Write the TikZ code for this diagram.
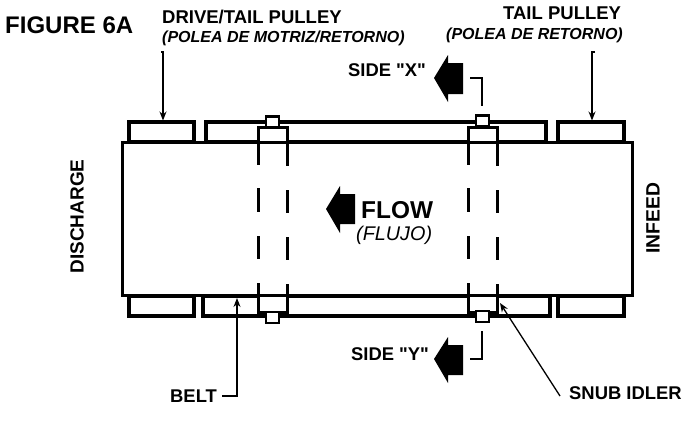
\documentclass[tikz,border=0pt]{standalone}
\usepackage{fontspec}
\setmainfont{Liberation Sans}[Ligatures=TeXOff]
\usetikzlibrary{arrows.meta}
\tikzset{
  pulley/.style={draw, line width=3.2pt, inner sep=0pt, outer sep=0pt, minimum height=20pt},
  capbox/.style={draw, fill=white, line width=2.8pt, inner sep=0pt, outer sep=0pt, minimum width=13pt, minimum height=11pt},
  heavy/.style={line width=3pt},
  leader/.style={line width=1.3pt},
  tag/.style={font=\bfseries\fontsize{18.4}{20}\selectfont, inner sep=0pt, anchor=base west},
  note/.style={font=\bfseries\itshape\fontsize{16}{18}\selectfont, inner sep=0pt, anchor=base west}
}
\begin{document}
\begin{tikzpicture}[x=1pt, y=-1pt, >={Stealth[length=9pt,width=7pt]}]
\useasboundingbox (0,0) rectangle (696,429);
  % Pulleys and side rails
  \node[pulley, minimum width=65pt] (topleft) at (161.5,132) {};
  \node[pulley, minimum width=340pt] (toprail) at (376,132) {};
  \node[pulley, minimum width=66pt] (topright) at (591,132) {};
  \node[pulley, minimum width=65pt] (botleft) at (161.5,306) {};
  \node[pulley, minimum width=347pt] (botrail) at (376.5,306) {};
  \node[pulley, minimum width=66pt] (botright) at (591,306) {};
  % Belt
  \node[draw, heavy, fill=white, inner sep=0pt, outer sep=0pt, minimum width=510pt, minimum height=153pt] (belt) at (377,218.5) {};
  % Idler 1
  \draw[heavy, fill=white] (258,142) -- (258,127) -- (287,127) -- (287,142) -- cycle;
  \draw[heavy, fill=white] (258,295) -- (258,312) -- (287,312) -- (287,295) -- cycle;
  \draw[heavy] (258,142) -- (258,165); % left
  \draw[heavy] (258,188) -- (258,212);
  \draw[heavy] (258,236) -- (258,259);
  \draw[heavy] (258,283) -- (258,295);
  \draw[heavy] (287,142) -- (287,166); % right
  \draw[heavy] (287,190) -- (287,213);
  \draw[heavy] (287,237) -- (287,260);
  \draw[heavy] (287,284) -- (287,295);
  % Idler 2
  \draw[heavy, fill=white] (468,142) -- (468,127) -- (497,127) -- (497,142) -- cycle;
  \draw[heavy, fill=white] (468,295) -- (468,312) -- (497,312) -- (497,295) -- cycle;
  \draw[heavy] (468,142) -- (468,165); % left
  \draw[heavy] (468,188) -- (468,212);
  \draw[heavy] (468,236) -- (468,259);
  \draw[heavy] (468,283) -- (468,295);
  \draw[heavy] (497,142) -- (497,166); % right
  \draw[heavy] (497,190) -- (497,213);
  \draw[heavy] (497,237) -- (497,260);
  \draw[heavy] (497,284) -- (497,295);
  % Caps
  \node[capbox] (captopa) at (272.5,122) {};
  \node[capbox] (captopb) at (482.5,121) {};
  \node[capbox] (capbota) at (272.5,317.5) {};
  \node[capbox] (capbotb) at (482.5,316.5) {};
  % Block arrows
  \fill (434,78) -- (448,55) -- (448,63) -- (463,63) -- (463,94) -- (448,94) -- (448,102) -- cycle; % side X
  \fill (434,359) -- (448,337) -- (448,345) -- (463,345) -- (463,375) -- (448,375) -- (448,383) -- cycle; % side Y
  \fill (326,209) -- (340,186) -- (340,194) -- (355,194) -- (355,224) -- (340,224) -- (340,233) -- cycle; % flow
  % Texts
  \node[inner sep=0pt, anchor=base west, font=\bfseries\fontsize{24}{26}\selectfont] (figtitle) at (5,33) {FIGURE 6A};
  \node[tag, font=\bfseries\fontsize{18.5}{20}\selectfont] (drivelabel) at (162,23) {DRIVE/TAIL PULLEY};
  \node[note] (drivenote) at (162,42) {(POLEA DE MOTRIZ/RETORNO)};
  \node[tag, font=\bfseries\fontsize{18.5}{20}\selectfont] (taillabel) at (503,19) {TAIL PULLEY};
  \node[note] (tailnote) at (446,39) {(POLEA DE RETORNO)};
  \node[tag] (sidex) at (348,76) {SIDE "X"};
  \node[tag] (sidey) at (351,360) {SIDE "Y"};
  \node[inner sep=0pt, anchor=base west, font=\bfseries\fontsize{24.4}{26}\selectfont] (flowlabel) at (361,218) {FLOW};
  \node[inner sep=0pt, anchor=base west, font=\itshape\fontsize{19.8}{22}\selectfont] (flownote) at (356,240) {(FLUJO)};
  \node[tag, anchor=center, rotate=90, font=\bfseries\fontsize{19}{21}\selectfont] (discharge) at (77,216.5) {DISCHARGE};
  \node[tag, anchor=center, rotate=90, font=\bfseries\fontsize{19.3}{21}\selectfont] (infeed) at (653,218) {INFEED};
  \node[tag] (beltlabel) at (170,402) {BELT};
  \node[tag] (snublabel) at (569,399) {SNUB IDLER};
  % Leaders
  \coordinate (drivestart) at (163,52);
  \coordinate (tailstart) at (592,52);
  \coordinate (xstart) at (470,78);
  \coordinate (xcorner) at (482,78);
  \coordinate (ystart) at (470,359);
  \coordinate (ycorner) at (482,359);
  \coordinate (beltcorner) at (237,396);
  \coordinate (snubstart) at (560,396);
  \coordinate (snubtip) at (500,303);
  \draw[leader, ->, shorten >=1.5pt] ([xshift=-2pt]drivestart) -- (drivestart) -- (drivestart |- topleft.north);
  \draw[leader, ->, shorten >=1.5pt] ([xshift=3pt]tailstart) -- (tailstart) -- (tailstart |- topright.north);
  \draw[leader] (xstart) -- (xcorner) -- ([yshift=10pt]xcorner |- captopb.north);
  \draw[leader] (ystart) -- (ycorner) -- ([yshift=-9pt]ycorner |- capbotb.south);
  \draw[leader, ->, shorten >=3pt] ([xshift=5pt,yshift=6pt]beltlabel.base east) -- (beltcorner) -- (beltcorner |- belt.south);
  \draw[leader, ->] (snubstart) -- (snubtip);
\end{tikzpicture}
\end{document}
